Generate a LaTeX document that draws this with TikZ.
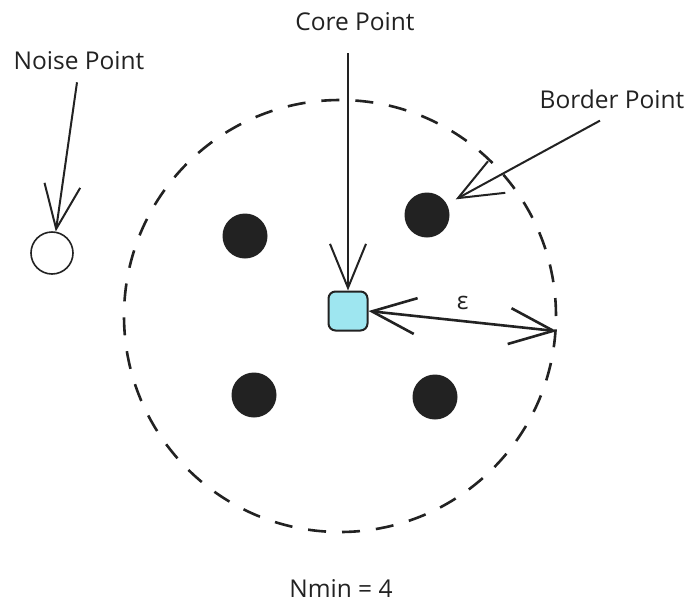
\documentclass[tikz,border=0pt]{standalone}
\usepackage{fontspec}
\setmainfont{Open Sans}
\usetikzlibrary{arrows.meta}

\definecolor{corefill}{HTML}{9EE6F0}
\definecolor{ink}{HTML}{222222}

\tikzset{
    lbl/.style={font=\fontsize{24.5}{28}\selectfont, text=ink, inner sep=2pt},
    member/.style={circle, fill=ink, minimum size=45pt, inner sep=0pt},
    pointer/.style={-{Straight Barb[length=44pt, width=36pt, line width=2pt]}, line width=2pt, draw=ink},
}

\begin{document}
\begin{tikzpicture}[x=1pt, y=-1pt]
            \useasboundingbox (0,0) rectangle (694,603);

            \node[draw=ink, circle, dash pattern=on 18pt off 16pt, line width=2.6pt, minimum size=432pt, inner sep=0pt] (ring) at (340,316) {};

            \node[member] (dotA) at (245,236) {};
            \node[member] (dotB) at (427,215) {};
            \node[member] (dotC) at (254,395) {};
            \node[member] (dotD) at (435,397) {};

            \node[draw=ink, circle, fill=white, line width=1.6pt, minimum size=42pt, inner sep=0pt] (noise) at (52,253) {};
            \node[draw=ink, fill=corefill, rounded corners=7pt, line width=2pt, minimum size=39pt, inner sep=0pt] (core) at (348,311) {};

            \node[lbl] (noiselbl) at (79,61) {Noise Point};
            \node[lbl] (corelbl) at (355,22) {Core Point};
            \node[lbl] (borderlbl) at (612,99) {Border Point};
            \node[lbl] (nminlbl) at (341,589) {Nmin = 4};

            \coordinate (rim) at (ring.-4.3);

            \draw[pointer] ([xshift=-2pt, yshift=-10pt]noiselbl.south) -- (noise.80);
            \draw[pointer] (core.north |- corelbl.south) ++(0,20) -- (core.north);
            \draw[pointer, shorten >=10pt] ([xshift=-12pt, yshift=-10pt]borderlbl.south) -- (dotB);
            \draw[pointer, {Straight Barb[length=44pt, width=36pt, line width=2.6pt]}-{Straight Barb[length=44pt, width=36pt, line width=2.6pt]}, line width=2.6pt] (core.east) -- node[lbl, pos=0.5, above=8pt] (epslbl) {ε} (rim);
\end{tikzpicture}
\end{document}
